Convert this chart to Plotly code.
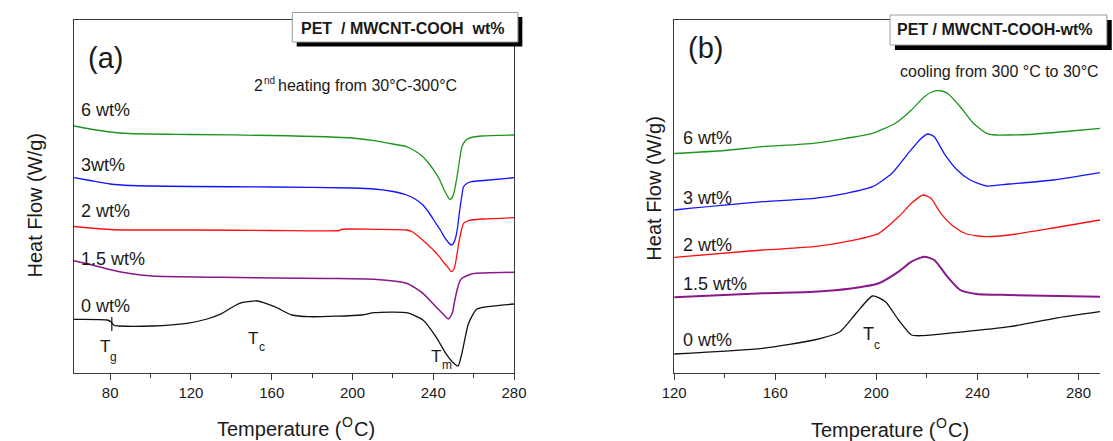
import plotly.graph_objects as go

# ---------------- data (heat flow in arbitrary units, drawn with endotherm downward) ----------------
# Panel (a): 2nd heating
Ta_green = [62, 70, 80, 89, 120, 160, 200, 210.7, 220, 226.8, 231, 234.9, 238, 241.3, 243.5, 245.4, 247, 248.1, 249.2, 250.2, 251.3, 252.3, 254.2, 255.8, 257.5, 263.9, 280]
Ha_green = [126, 129, 132, 133.5, 134.5, 135.5, 138, 140.7, 144, 146.7, 151, 156.7, 164, 173.3, 181, 190, 196, 199.3, 198, 193.3, 182, 170, 146.7, 141, 138.3, 136, 135]

Ta_blue = [62, 70, 80, 90, 120, 160, 200, 210.7, 220, 226.8, 231, 234.9, 238, 241.3, 243.5, 245.4, 247.3, 249, 250, 251, 252, 252.9, 254, 255, 257, 259, 265, 280]
Ha_blue = [177.7, 180.5, 184, 185.5, 186.5, 187, 188, 189, 191.5, 195, 199, 205, 213, 223.3, 230, 236.7, 242, 245, 243.5, 238.3, 228, 213.3, 198, 186.7, 183, 181.7, 180.5, 177.7]

Ta_red = [62, 70, 80, 90, 120, 160, 193.5, 194.5, 210.7, 226.8, 229.8, 233, 236.5, 240, 243, 245, 247, 249, 250, 251, 252.6, 254, 255, 257, 259, 265, 280]
Ha_red = [226.5, 228, 229.5, 230, 230, 230.5, 230.5, 229.3, 229.3, 230, 232, 237, 243.3, 250, 256.7, 262, 266.7, 271.7, 270, 263.3, 243.3, 230, 223.3, 221, 220, 219, 217.7]

Ta_purple = [62, 68, 75, 82, 89, 101, 135, 187, 210.7, 226.8, 234.9, 241.3, 245.4, 247.5, 249.4, 250.5, 251.8, 253, 254.2, 259, 280]
Ha_purple = [260.7, 263.5, 267, 270.5, 273.3, 276, 277.3, 278.5, 279.3, 283.3, 293.3, 306.7, 315, 319, 313.3, 302, 290, 282, 278.3, 274, 272.3]

Ta_black = [62, 78.6, 80.5, 82, 84, 101, 118, 128, 135.4, 144, 152.8, 161.4, 170, 178.7, 204.6, 210.7, 226.8, 234.9, 241.3, 246.2, 250.2, 252.3, 254.2, 257.5, 261.5, 267.1, 280]
Ha_black = [319.3, 320, 322, 325.5, 326, 326, 323.3, 319, 313.3, 303.3, 301, 306.7, 315, 316.7, 315, 312.7, 312.7, 320, 336.7, 353.3, 363.3, 366, 353.3, 323.3, 309.3, 306.7, 304]

Tg_mark_T = [80.8, 80.8]
Tg_mark_H = [317, 331]

# Panel (b): cooling
Tb_green = [120, 140, 155, 175, 188, 198.5, 207.5, 213.9, 219, 222, 224.2, 226, 228.1, 233.2, 238.4, 243.6, 247.4, 252.6, 260, 275, 288.5]
Hb_green = [153.5, 150.5, 146.7, 143.3, 138.3, 133.3, 123.3, 110, 96.7, 92, 90.7, 91, 93.3, 106.7, 123.3, 133.3, 135, 135, 134.5, 131.5, 128.3]

Tb_blue = [120, 155, 175.3, 188.1, 198.5, 206.2, 212.6, 217.8, 220.4, 222.9, 226.8, 232, 237.1, 243.6, 252.6, 270, 288.5]
Hb_blue = [210, 201.7, 198.3, 193.3, 186.7, 173.3, 153.3, 138.3, 134, 136.7, 153.3, 170, 180, 186, 184, 180, 172.7]

Tb_red = [120, 155, 175.3, 188.1, 201, 208.8, 213.9, 218.4, 221.6, 225.5, 230.7, 235.8, 243.6, 252.6, 270, 288.5]
Hb_red = [257.3, 250, 246.7, 241.7, 233.3, 216.7, 203.3, 195, 198.3, 213.3, 226.7, 234, 236.7, 235, 228, 220]

Tb_purple = [120, 155, 175.3, 190, 201, 208.8, 213.9, 219, 222.9, 228.1, 233.2, 239.7, 252.6, 288.5]
Hb_purple = [297.3, 293.3, 291.7, 288.5, 283.3, 271.7, 261.7, 256.7, 260, 276.7, 290, 294, 295, 296.7]

Tb_black = [120, 155, 175.3, 185.6, 192, 198.5, 203.6, 208.8, 213.9, 217.8, 252.6, 270.6, 288.5]
Hb_black = [354, 348.3, 340, 331.7, 313.3, 296, 301.7, 320, 335, 335.7, 326.7, 318.3, 311.7]

series_labels = ["6 wt%", "3wt%", "2 wt%", "1.5 wt%", "0 wt%"]
series_labels_b = ["6 wt%", "3 wt%", "2 wt%", "1.5 wt%", "0 wt%"]
label_H_a = [110, 165, 211, 258.5, 306]
label_H_b = [138, 198, 245, 283.5, 339.5]

x_range_a = [62, 280]
x_range_b = [120, 288.5]
y_range = [373.3, 20]

# ---------------- styling ----------------
FONT = "Liberation Sans, Arial, sans-serif"
TXT = "#1a1a1a"
AX = "#3a3a3a"
colors = ["#1e961e", "#1414ff", "#ff1010", "#8a188a", "#111111"]
widths_a = [1.3, 1.3, 1.3, 1.5, 1.3]
widths_b = [1.3, 1.3, 1.3, 2.0, 1.3]
SMOOTH = 0.6

fig = go.Figure()

panel_a = [(Ta_green, Ha_green), (Ta_blue, Ha_blue), (Ta_red, Ha_red), (Ta_purple, Ha_purple), (Ta_black, Ha_black)]
panel_b = [(Tb_green, Hb_green), (Tb_blue, Hb_blue), (Tb_red, Hb_red), (Tb_purple, Hb_purple), (Tb_black, Hb_black)]

for (t, h), c, w in zip(panel_a, colors, widths_a):
    fig.add_trace(go.Scatter(x=t, y=h, mode="lines", line=dict(color=c, width=w, shape="spline", smoothing=SMOOTH),
                             xaxis="x", yaxis="y", showlegend=False, hoverinfo="skip"))
fig.add_trace(go.Scatter(x=Tg_mark_T, y=Tg_mark_H, mode="lines", line=dict(color="#111111", width=1.2),
                         xaxis="x", yaxis="y", showlegend=False, hoverinfo="skip"))
for (t, h), c, w in zip(panel_b, colors, widths_b):
    fig.add_trace(go.Scatter(x=t, y=h, mode="lines", line=dict(color=c, width=w, shape="spline", smoothing=SMOOTH),
                             xaxis="x2", yaxis="y2", showlegend=False, hoverinfo="skip"))

W, H = 1113, 441
def px(x):
    return x / W
def py(y):
    return (H - y) / H

xax_common = dict(showgrid=False, zeroline=False, showline=True, linecolor=AX, linewidth=1.3,
                  ticks="outside", ticklen=6, tickwidth=1.3, tickcolor=AX, dtick=40, tick0=0,
                  minor=dict(ticks="outside", ticklen=4, tickwidth=1.2, tickcolor=AX, dtick=20, tick0=0),
                  tickfont=dict(family=FONT, size=15, color=TXT), mirror=True)
yax_common = dict(showgrid=False, zeroline=False, showline=True, linecolor=AX, linewidth=1.3,
                  showticklabels=False, ticks="", range=y_range)

fig.update_layout(
    width=W, height=H, margin=dict(l=0, r=0, t=0, b=0),
    paper_bgcolor="white", plot_bgcolor="white",
    xaxis=dict(domain=[px(62.3), px(513)], range=x_range_a, anchor="y", **xax_common),
    yaxis=dict(domain=[py(373.3), py(20)], anchor="x", mirror=True, **yax_common),
    xaxis2=dict(domain=[px(677), 1.0], range=x_range_b, anchor="y2", **xax_common),
    yaxis2=dict(domain=[py(373.3), py(20)], anchor="x2", mirror=False, **yax_common),
)

ann = []
def add(text, x, y, size, xref="paper", yref="paper", xanchor="left", yanchor="middle", angle=0, bold=False):
    ann.append(dict(text=("<b>%s</b>" % text) if bold else text, x=x, y=y, xref=xref, yref=yref,
                    xanchor=xanchor, yanchor=yanchor, showarrow=False, textangle=angle,
                    borderpad=0, borderwidth=0,
                    font=dict(family=FONT, size=size, color=TXT)))

for lab, hv in zip(series_labels, label_H_a):
    add(lab, 65.5, hv, 18, "x", "y")
for lab, hv in zip(series_labels_b, label_H_b):
    add(lab, 123.5, hv, 18, "x2", "y2")

# transition labels: main letter + subscript as separate texts
add("T", 77.3, 346.5, 17, "x", "y", xanchor="center")
add("g", 81.5, 357, 12, "x", "y", xanchor="center")
add("T", 150.9, 338.5, 17, "x", "y", xanchor="center")
add("c", 155.4, 347, 12, "x", "y", xanchor="center")
add("T", 241.5, 356, 17, "x", "y", xanchor="center")
add("m", 246.9, 364.5, 12, "x", "y", xanchor="center")
add("T", 196.8, 334, 18, "x2", "y2", xanchor="center")
add("c", 200.2, 344.5, 12, "x2", "y2", xanchor="center")

add("(a)", px(77), py(58), 29)
add("(b)", px(691), py(48), 29)
add("2", px(247), py(86), 16)
add("nd", px(257), py(80.5), 10)
add("heating from 30°C-300°C", px(271), py(86), 16)
add("cooling from 300 °C to 30°C", px(908), py(72), 16)
add("PET&nbsp;&nbsp;/ MWCNT-COOH&nbsp;&nbsp;wt%", px(295), py(28.5), 16, bold=True)
add("PET / MWCNT-COOH-wt%", px(905), py(30), 16, bold=True)

# x-axis titles: "Temperature (" + superscript O + "C)"
add("Temperature (", px(209), py(429), 20, xanchor="left")
add("O", px(337), py(422), 14, xanchor="left")
add("C)", px(349), py(429), 20, xanchor="left")
add("Temperature (", px(817), py(430), 20, xanchor="left")
add("O", px(945), py(423), 14, xanchor="left")
add("C)", px(957), py(430), 20, xanchor="left")

add("Heat Flow (W/g)", px(23), py(205), 20, xanchor="center", angle=-90)
add("Heat Flow (W/g)", px(656), py(189), 20, xanchor="center", angle=-90)

fig.update_layout(annotations=ann)

shapes = [
    # panel (a) caption box: shadow then box
    dict(type="rect", xref="paper", yref="paper", x0=px(290.5), x1=px(521.5), y0=py(46.5), y1=py(17),
         fillcolor="#000000", line=dict(width=0), layer="above"),
    dict(type="rect", xref="paper", yref="paper", x0=px(286), x1=px(517), y0=py(42), y1=py(12.5),
         fillcolor="#ffffff", line=dict(color="#9a9a9a", width=1), layer="above"),
    # panel (b) caption box
    dict(type="rect", xref="paper", yref="paper", x0=px(903), x1=px(1125), y0=py(50), y1=py(20),
         fillcolor="#000000", line=dict(width=0), layer="above"),
    dict(type="rect", xref="paper", yref="paper", x0=px(898), x1=px(1120), y0=py(45), y1=py(15),
         fillcolor="#ffffff", line=dict(color="#9a9a9a", width=1), layer="above"),
]
fig.update_layout(shapes=shapes)

fig.write_html("out.html", config={"displayModeBar": False},
               post_script="document.body.style.margin='0';document.body.style.padding='0';document.body.style.overflow='hidden';")
